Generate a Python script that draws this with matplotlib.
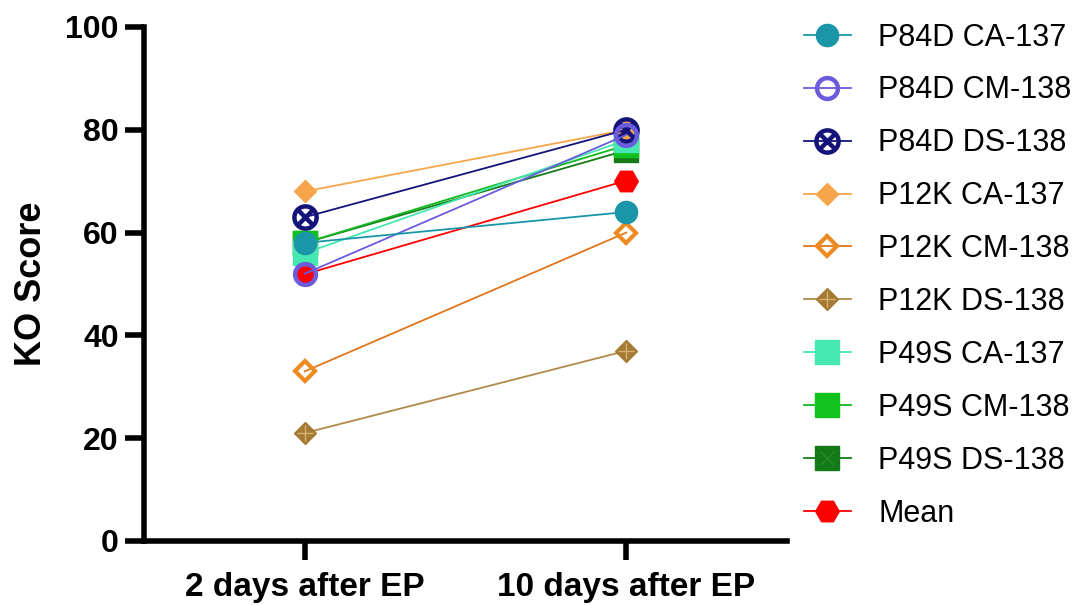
import numpy as np
import matplotlib.pyplot as plt
from matplotlib.path import Path
from matplotlib.legend_handler import HandlerTuple

plt.rcParams['font.family'] = ['Liberation Sans', 'DejaVu Sans']

# KO scores per sample at the two time points
timepoints = ["2 days after EP", "10 days after EP"]
labels = ["P84D CA-137", "P84D CM-138", "P84D DS-138",
          "P12K CA-137", "P12K CM-138", "P12K DS-138",
          "P49S CA-137", "P49S CM-138", "P49S DS-138", "Mean"]
day2 = [58, 52, 63, 68, 33, 21, 56, 58, 58]
day10 = [64, 79, 80, 80, 60, 37, 78, 77, 76]
mean_scores = [np.mean(day2), np.mean(day10)]

# circle with an X through it
circ = Path.unit_circle()
k = 0.707
cross = Path([(-k, -k), (k, k), (-k, k), (k, -k)],
             [Path.MOVETO, Path.LINETO, Path.MOVETO, Path.LINETO])
circle_x = Path.make_compound_path(circ, cross)

styles = [
    dict(color='#1a96a8', marker='o', ms=16, mfc='#1a96a8', mec='#1a96a8', mew=1),
    dict(color='#6a5cdc', marker='o', ms=15, mfc='none', mec='#6a5cdc', mew=3.2),
    dict(color='#13137a', marker=circle_x, ms=16, mfc='none', mec='#13137a', mew=3.2),
    dict(color='#f7a54a', marker='D', ms=11, mfc='#f7a54a', mec='#f7a54a', mew=1),
    dict(color='#e0761c', marker='D', ms=10, mfc='none', mec='#ee8a1f', mew=3),
    dict(color='#b08a4a', marker='D', ms=11, mfc='#a57a35', mec='#a57a35', mew=1),
    dict(color='#45e8b0', marker='s', ms=17, mfc='#45e8b0', mec='#45e8b0', mew=1),
    dict(color='#11b81e', marker='s', ms=17, mfc='#11c21e', mec='#11c21e', mew=1),
    dict(color='#137a17', marker='s', ms=17, mfc='#137a17', mec='#137a17', mew=1),
]

fig = plt.figure(figsize=(10.8, 6.05), dpi=100)
ax = fig.add_axes([0.1333, 0.1058, 0.5954, 0.8496])

x = np.arange(len(timepoints))
handles = []
n = len(day2)
for i in range(n):
    st = styles[i]
    h, = ax.plot(x, [day2[i], day10[i]], lw=1.3, clip_on=False,
                 zorder=20 - i, **st)
    if i == 5:
        plus, = ax.plot(x, [day2[i], day10[i]], ls='none', marker='+',
                        ms=11, mec='#d8b070', mew=1.0, clip_on=False,
                        zorder=20 - i)
        handles.append((h, plus))
    elif i == 8:
        xm, = ax.plot(x, [day2[i], day10[i]], ls='none', marker='x',
                      ms=10, mec='#2a8a2e', mew=0.8, clip_on=False,
                      zorder=20 - i)
        handles.append((h, xm))
    else:
        handles.append(h)

hm, = ax.plot(x, mean_scores, color='#ff0000', lw=1.3, marker='H', ms=17,
              mfc='#ff0000', mec='#ff0000', clip_on=False, zorder=5)
handles.append(hm)

ax.set_xlim(-0.5, 1.5)
ax.set_ylim(0, 100)
ax.set_yticks([0, 20, 40, 60, 80, 100])
ax.set_xticks(x)
ax.set_xticklabels(timepoints)
ax.set_ylabel("KO Score", fontsize=26, fontweight='bold', labelpad=12)

for side in ['top', 'right']:
    ax.spines[side].set_visible(False)
for side in ['left', 'bottom']:
    ax.spines[side].set_linewidth(4)
ax.tick_params(width=4, length=14, labelsize=24, pad=4)
ax.tick_params(axis='x', pad=8)
ax.tick_params(axis='y', labelsize=23)
for lab in ax.get_xticklabels() + ax.get_yticklabels():
    lab.set_fontweight('bold')

fig.legend(handles, labels, loc='upper left', bbox_to_anchor=(0.733, 0.983),
           frameon=False, fontsize=22, handlelength=1.54, handletextpad=0.9,
           labelspacing=0.75, borderaxespad=0,
           handler_map={tuple: HandlerTuple(ndivide=1)})

fig.savefig('out.png', dpi=100)
